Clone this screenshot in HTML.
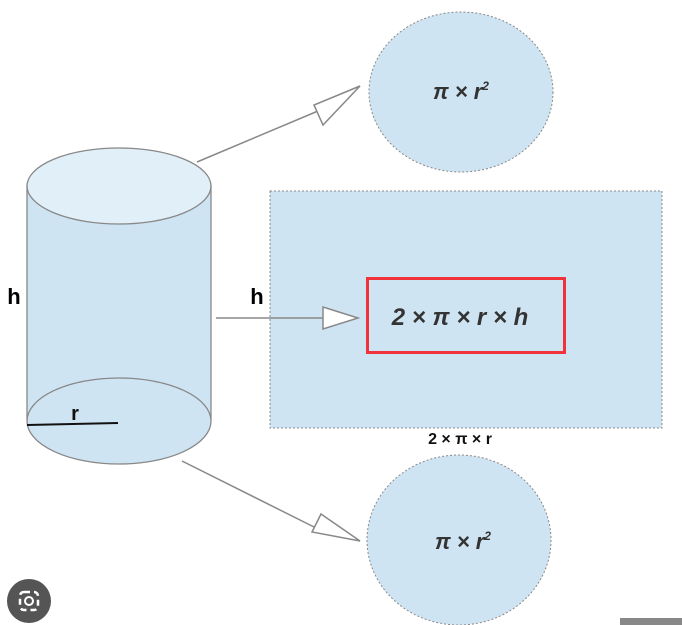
<!DOCTYPE html>
<html><head><meta charset="utf-8"><style>
html,body{margin:0;padding:0;background:#fff;}
svg{display:block;}
text{font-family:"Liberation Sans",sans-serif;}
</style></head><body>
<svg width="682" height="625" viewBox="0 0 682 625" xmlns="http://www.w3.org/2000/svg">
<!-- top circle -->
<ellipse cx="461" cy="92" rx="92" ry="80" fill="#cfe4f3" stroke="#888" stroke-width="1" stroke-dasharray="2,2"/>
<text x="461" y="99" text-anchor="middle" font-size="22" font-weight="bold" font-style="italic" fill="#333">π × r<tspan font-size="12" dy="-9">2</tspan></text>
<!-- rectangle -->
<rect x="270" y="191" width="392" height="237" fill="#cfe4f3" stroke="#888" stroke-width="1" stroke-dasharray="2,2"/>
<rect x="367.5" y="278.5" width="197" height="74" fill="none" stroke="#f0323a" stroke-width="3"/>
<text x="460" y="325" text-anchor="middle" font-size="24" font-weight="bold" font-style="italic" fill="#333">2 × π × r × h</text>
<text x="460" y="444" text-anchor="middle" font-size="16" font-weight="bold" fill="#111">2 × π × r</text>
<!-- bottom circle -->
<ellipse cx="459" cy="540" rx="92" ry="85" fill="#cfe4f3" stroke="#888" stroke-width="1" stroke-dasharray="2,2"/>
<text x="463" y="549" text-anchor="middle" font-size="22" font-weight="bold" font-style="italic" fill="#333">π × r<tspan font-size="12" dy="-9">2</tspan></text>
<!-- cylinder -->
<rect x="27" y="185" width="184" height="235" fill="#cfe4f3"/>
<line x1="27" y1="185" x2="27" y2="420" stroke="#888" stroke-width="1.3"/>
<line x1="211" y1="185" x2="211" y2="420" stroke="#888" stroke-width="1.3"/>
<ellipse cx="119" cy="421" rx="92" ry="43" fill="#cfe4f3" stroke="#888" stroke-width="1.3"/>
<ellipse cx="119" cy="186" rx="92" ry="38" fill="#e1eff8" stroke="#888" stroke-width="1.3"/>
<line x1="27" y1="425" x2="118" y2="423" stroke="#111" stroke-width="2"/>
<text x="75" y="420" text-anchor="middle" font-size="20" font-weight="bold" fill="#111">r</text>
<text x="14" y="304" text-anchor="middle" font-size="22" font-weight="bold" fill="#000">h</text>
<text x="257" y="304" text-anchor="middle" font-size="22" font-weight="bold" fill="#000">h</text>
<!-- arrows -->
<g stroke="#888" stroke-width="1.5" fill="#fff">
<line x1="197" y1="162" x2="318" y2="111"/>
<polygon points="360,86 323,125 314,105"/>
<line x1="216" y1="318" x2="323" y2="318"/>
<polygon points="358,318 323,307 323,329"/>
<line x1="182" y1="461" x2="314" y2="527"/>
<polygon points="360,541 312,532 321,514"/>
</g>
<!-- camera icon -->
<circle cx="29" cy="601" r="22" fill="#555"/>
<rect x="20" y="592" width="18" height="18" rx="4" fill="none" stroke="#fff" stroke-width="2.5" stroke-dasharray="6,4"/>
<circle cx="29" cy="601" r="4" fill="none" stroke="#fff" stroke-width="2"/>
<rect x="620" y="618" width="62" height="7" fill="#888"/>
</svg>
</body></html>
